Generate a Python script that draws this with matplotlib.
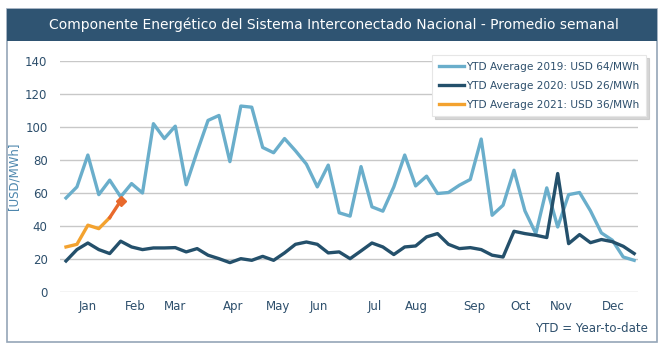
import numpy as np
import matplotlib
matplotlib.use('Agg')
import matplotlib.pyplot as plt
from matplotlib.patches import Rectangle
from matplotlib.lines import Line2D

# weekly averages, USD/MWh (53 weeks)
y2019 = [57, 63.7, 83, 59, 67.8, 57.7, 65.7, 60, 102, 93, 100.5, 65, 85, 104, 107,
         79, 112.7, 112, 87.6, 84.4, 93, 85.6, 77.5, 63.7, 76.9, 48, 46, 76, 51.6, 49,
         63.7, 83, 64.3, 70.2, 59.7, 60.3, 64.7, 68.2, 92.7, 46.5, 52.6, 73.8, 49.2,
         35.4, 63.1, 39.4, 59, 60.3, 49.2, 35.8, 31.4, 21.2, 19.2]
y2020 = [18.8, 25.7, 29.7, 25.7, 23.3, 30.8, 27.3, 25.7, 26.7, 26.7, 26.9, 24.3, 26.3,
         22.3, 20.2, 17.8, 20.2, 19.2, 21.6, 19.2, 23.7, 28.9, 30.3, 28.9, 23.7, 24.3,
         20.2, 24.9, 29.7, 27.3, 22.7, 27.3, 27.9, 33.4, 35.4, 28.9, 26.3, 26.9, 25.7,
         22.3, 21.2, 36.8, 35.4, 34.4, 33, 71.8, 29.3, 34.8, 29.9, 31.8, 30.5, 27.7, 23.3]
y2021 = [27.3, 28.9, 40.5, 38.4, 45.1, 55.2]

labels = ['YTD Average 2019: USD 64/MWh', 'YTD Average 2020: USD 26/MWh',
          'YTD Average 2021: USD 36/MWh']
months = ['Jan', 'Feb', 'Mar', 'Apr', 'May', 'Jun', 'Jul', 'Aug', 'Sep', 'Oct', 'Nov', 'Dec']
month_pos = [2, 6.3, 10, 15.3, 19.4, 23.1, 28.3, 32.1, 37.4, 41.6, 45.3, 50.1]

c19 = '#6aaecb'
c20 = '#24506b'
c21 = '#f3a22f'
c21last = '#e8692c'
txt = '#2d4f6c'

fig = plt.figure(figsize=(6.68, 3.54), dpi=100, facecolor='white')

# outer frame and title bar
fig.patches.append(Rectangle((7 / 668, 1 - 342 / 354), 650 / 668, 333 / 354,
                             transform=fig.transFigure, facecolor='none',
                             edgecolor='#95a5b8', linewidth=1.2, zorder=0))
fig.patches.append(Rectangle((7 / 668, 1 - 41 / 354), 650 / 668, 32 / 354,
                             transform=fig.transFigure, facecolor='#2f5472',
                             edgecolor='none', zorder=1))
fig.text(334 / 668, 1 - 25 / 354,
         'Componente Energético del Sistema Interconectado Nacional - Promedio semanal',
         color='white', fontsize=10, ha='center', va='center')

ax = fig.add_axes([60 / 668, 62 / 354, 578 / 668, 231 / 354])
ax.set_zorder(2)
ax.set_facecolor('none')
x19 = np.arange(len(y2019))
x20 = np.arange(len(y2020))
x21 = np.arange(len(y2021))
ax.plot(x19, y2019, color=c19, lw=2.4, clip_on=False, zorder=3)
ax.plot(x20, y2020, color=c20, lw=2.4, clip_on=False, zorder=4)
ax.plot(x21[:5], y2021[:5], color=c21, lw=2.4, clip_on=False, zorder=5)
ax.plot(x21[4:], y2021[4:], color=c21last, lw=2.4, clip_on=False, zorder=5)
ax.plot(x21[-1:], y2021[-1:], marker='D', color=c21last, ms=5, zorder=6)

ax.set_xlim(-0.55, 52.35)
ax.set_ylim(0, 140)
ax.set_yticks(range(0, 141, 20))
ax.set_xticks(month_pos)
ax.set_xticklabels(months)
ax.grid(axis='y', color='#c8c8c8', lw=1)
ax.set_axisbelow(True)
for s in ax.spines.values():
    s.set_visible(False)
ax.tick_params(axis='both', length=0, colors=txt, labelsize=8.5)
ax.tick_params(axis='y', pad=9)
ax.tick_params(axis='x', pad=6)
ax.set_ylabel('[USD/MWh]', color='#4d86ad', fontsize=8.5, labelpad=3)

handles = [Line2D([], [], color=c19, lw=2.4), Line2D([], [], color=c20, lw=2.4),
           Line2D([], [], color=c21, lw=2.4)]
leg = fig.legend(handles, labels, loc='upper right',
                 bbox_to_anchor=(651 / 668, 1 - 50 / 354), fontsize=7.6,
                 frameon=True, fancybox=False, shadow={'color': '#bbbbbb', 'alpha': 0.6},
                 handlelength=2.4, handletextpad=0.2, labelspacing=0.85, borderpad=0.6,
                 labelcolor=txt)
leg.set_zorder(10)
leg.get_frame().set_edgecolor('#e6e6e6')
leg.get_frame().set_linewidth(0.8)

fig.text(648 / 668, 1 - 328 / 354, 'YTD = Year-to-date', color=txt, fontsize=8.5,
         ha='right', va='center')

fig.savefig('out.png', dpi=100)
